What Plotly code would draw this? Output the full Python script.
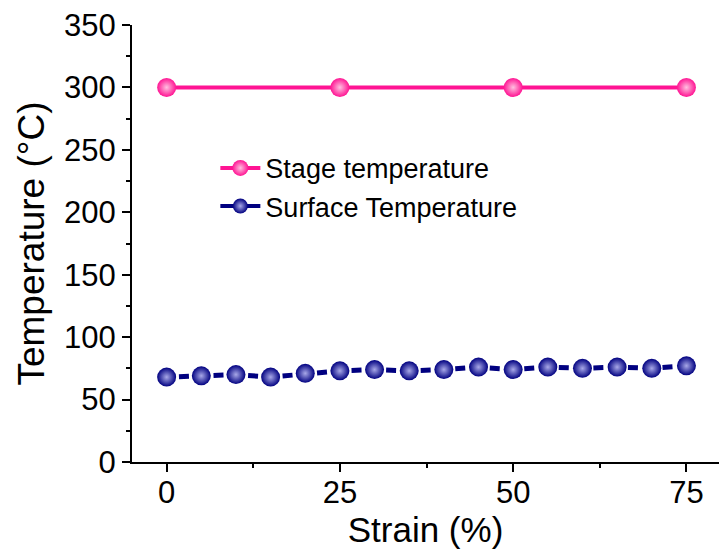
import plotly.graph_objects as go

stage_strain = [0, 25, 50, 75]
stage_temp = [300, 300, 300, 300]

surface_strain = [0, 5, 10, 15, 20, 25, 30, 35, 40, 45, 50, 55, 60, 65, 70, 75]
surface_temp = [68, 69, 70, 68, 71, 73, 74, 73, 74, 76, 74, 76, 75, 76, 75, 77]

x_ticks = [0, 25, 50, 75]
y_ticks = [0, 50, 100, 150, 200, 250, 300, 350]

PINK = "#FF1493"
NAVY = "#000080"
FONT = "Liberation Sans, Arial, sans-serif"

pink_marker = dict(size=19, color=PINK, line=dict(width=0),
                   gradient=dict(type="radial", color="#FFC0E0"))
navy_marker = dict(size=19, color=NAVY, line=dict(width=0),
                   gradient=dict(type="radial", color="#A8A8E8"))

fig = go.Figure()
fig.add_trace(go.Scatter(
    x=stage_strain, y=stage_temp, name="Stage temperature",
    mode="lines+markers", legendrank=1,
    line=dict(color=PINK, width=4),
    marker=pink_marker,
))
fig.add_trace(go.Scatter(
    x=surface_strain, y=surface_temp, name="Surface Temperature",
    mode="lines+markers", showlegend=False,
    line=dict(color=NAVY, width=5, dash="0px,12.3px,10px,12.3px"),
    marker=navy_marker,
))
# legend entry for the surface series (solid line sample as in the original legend)
fig.add_trace(go.Scatter(
    x=[None], y=[None], name="Surface Temperature",
    mode="lines+markers", legendrank=2,
    line=dict(color=NAVY, width=4),
    marker=dict(navy_marker, size=15),
))

fig.update_layout(
    width=721, height=554,
    margin=dict(l=132, r=2, t=25, b=92),
    paper_bgcolor="white", plot_bgcolor="white",
    font=dict(family=FONT, color="black"),
    showlegend=True,
    legend=dict(x=0.142, y=0.728, xanchor="left", yanchor="top",
                bgcolor="rgba(0,0,0,0)", font=dict(size=27, family=FONT),
                tracegroupgap=0, itemwidth=40),
)
fig.update_xaxes(
    range=[-5, 79.7], tickvals=x_ticks, ticktext=[str(v) for v in x_ticks],
    showline=True, linecolor="black", linewidth=2, mirror=False,
    ticks="outside", ticklen=8, tickwidth=2, tickcolor="black",
    tickfont=dict(size=31, family=FONT), ticklabelstandoff=-6,
    minor=dict(ticks="outside", ticklen=4, tickwidth=2, tickcolor="black",
               tick0=0, dtick=12.5),
    showgrid=False, zeroline=False,
    title=dict(text="Strain (%)", font=dict(size=35, family=FONT), standoff=0),
)
fig.update_yaxes(
    range=[0, 350], tickvals=y_ticks, ticktext=[str(v) for v in y_ticks],
    showline=True, linecolor="black", linewidth=2, mirror=False,
    ticks="outside", ticklen=8, tickwidth=2, tickcolor="black",
    tickfont=dict(size=31, family=FONT),
    minor=dict(ticks="outside", ticklen=4, tickwidth=2, tickcolor="black",
               tick0=0, dtick=25),
    showgrid=False, zeroline=False,
    title=dict(text="Temperature (°C)", font=dict(size=37, family=FONT), standoff=8),
)

fig.write_html("out.html")
